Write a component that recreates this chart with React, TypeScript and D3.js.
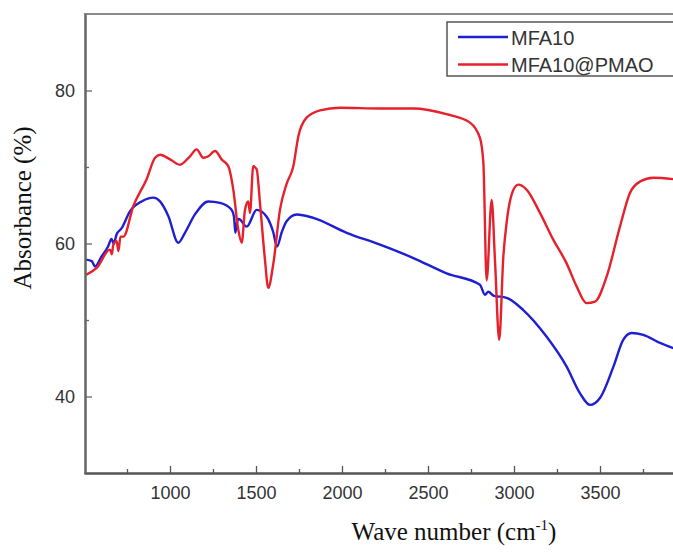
import * as d3 from 'd3'
import { useEffect, useRef } from 'react'

// MFA10 (blue)
const mfa10Wave = [512, 545, 564, 602, 640, 660, 672, 690, 719, 767, 835, 903, 942, 990, 1048, 1087, 1145, 1223, 1291, 1358, 1372, 1380, 1390, 1400, 1446, 1504, 1562, 1600, 1622, 1650, 1678, 1737, 1833, 2027, 2221, 2415, 2608, 2802, 2831, 2851, 2880, 2957, 3054, 3190, 3306, 3384, 3442, 3500, 3578, 3635, 3684, 3752, 3849, 3930]
const mfa10Abs = [57.9, 57.7, 57.0, 58.3, 59.6, 60.6, 60.0, 61.2, 62.0, 64.2, 65.5, 66.0, 65.5, 63.6, 60.1, 61.4, 63.8, 65.5, 65.3, 64.4, 63.5, 61.4, 62.8, 63.2, 62.2, 64.4, 63.5, 61.5, 59.6, 61.5, 62.9, 63.8, 63.35, 61.4, 59.85, 58.1, 56.1, 54.6, 53.3, 53.7, 53.2, 52.9, 51.3, 47.8, 43.9, 40.4, 38.9, 39.8, 43.9, 47.4, 48.3, 48.05, 47.0, 46.3]

// MFA10@PMAO (red)
const pmaoWave = [512, 574, 651, 662, 670, 690, 700, 712, 729, 787, 864, 913, 942, 1000, 1058, 1116, 1155, 1194, 1223, 1262, 1300, 1339, 1368, 1397, 1417, 1436, 1455, 1465, 1484, 1504, 1523, 1552, 1571, 1601, 1640, 1678, 1717, 1746, 1794, 1872, 1988, 2221, 2415, 2608, 2744, 2802, 2822, 2841, 2870, 2890, 2914, 2938, 2957, 2996, 3025, 3073, 3151, 3228, 3306, 3364, 3422, 3471, 3539, 3616, 3674, 3733, 3810, 3930]
const pmaoAbs = [55.9, 56.8, 59.2, 58.6, 59.8, 60.3, 59.0, 60.9, 60.9, 64.9, 68.4, 71.2, 71.6, 71.0, 70.3, 71.4, 72.3, 71.2, 71.4, 72.1, 71.0, 70.1, 67.05, 61.8, 60.1, 64.4, 65.5, 64.0, 70.1, 69.7, 65.3, 57.9, 54.2, 57.4, 64.5, 67.8, 70.1, 74.0, 76.45, 77.4, 77.75, 77.65, 77.65, 76.9, 75.8, 73.8, 70.5, 55.2, 65.7, 57.5, 47.4, 58.3, 62.7, 67.0, 67.7, 67.05, 64.0, 60.5, 57.4, 54.4, 52.2, 52.4, 55.7, 62.2, 66.6, 68.1, 68.6, 68.4]

const xTicks = [1000, 1500, 2000, 2500, 3000, 3500]
const xMinorTicks = [750, 1250, 1750, 2250, 2750, 3250, 3750]
const yTicks = [40, 60, 80]
const yMinorTicks = [50, 70]
const seriesNames = ['MFA10', 'MFA10@PMAO']
const seriesColors = ['#1f1fd2', '#e6212b']

export default function App() {
  const ref = useRef<SVGSVGElement>(null)
  const width = 673
  const height = 559

  useEffect(() => {
    const svg = d3.select(ref.current)
    svg.selectAll('*').remove()

    const left = 84, top = 14, bottom = 473
    const xScale = d3.scaleLinear().domain([500, 4000]).range([left, left + 3500 * 0.172])
    const yScale = d3.scaleLinear().domain([30, 90]).range([bottom, top])

    svg.append('defs').append('clipPath').attr('id', 'plot')
      .append('rect').attr('x', left).attr('y', top).attr('width', 700).attr('height', bottom - top)

    // frame top
    svg.append('line')
      .attr('x1', left).attr('x2', width).attr('y1', top).attr('y2', top)
      .attr('stroke', '#8a8a8a').attr('stroke-width', 2)

    const series = [
      { name: seriesNames[0], color: seriesColors[0], pts: mfa10Wave.map((w, i) => [w, mfa10Abs[i]]) },
      { name: seriesNames[1], color: seriesColors[1], pts: pmaoWave.map((w, i) => [w, pmaoAbs[i]]) },
    ]
    const line = d3.line<number[]>()
      .curve(d3.curveMonotoneX)
      .x(d => xScale(d[0]))
      .y(d => yScale(d[1]))
    svg.append('g').attr('clip-path', 'url(#plot)')
      .selectAll('path')
      .data(series)
      .join('path')
      .attr('fill', 'none')
      .attr('stroke', d => d.color)
      .attr('stroke-width', 2.4)
      .attr('stroke-linejoin', 'round')
      .attr('d', d => line(d.pts))

    // x axis
    const xAxisG = svg.append('g').attr('transform', `translate(0, ${bottom})`)
    xAxisG.call(d3.axisBottom(xScale).tickValues(xTicks).tickSizeInner(-7).tickSizeOuter(0).tickPadding(13).tickFormat(d3.format('d')))
    xAxisG.append('g').call(d3.axisBottom(xScale).tickValues(xMinorTicks).tickSizeInner(-4).tickSizeOuter(0).tickFormat(() => ''))
    xAxisG.selectAll('.domain').attr('stroke', '#555').attr('stroke-width', 2)
    xAxisG.selectAll('line').attr('stroke', '#555').attr('stroke-width', 1.3)
    xAxisG.selectAll('text')
      .attr('font-family', 'Arial, "Liberation Sans", sans-serif')
      .attr('font-size', 18).attr('fill', '#333')

    // y axis
    const yAxisG = svg.append('g').attr('transform', `translate(${left + 1}, 0)`)
    yAxisG.call(d3.axisLeft(yScale).tickValues(yTicks).tickSizeInner(-7).tickSizeOuter(0).tickPadding(10))
    yAxisG.append('g').call(d3.axisLeft(yScale).tickValues(yMinorTicks).tickSizeInner(-4).tickSizeOuter(0).tickFormat(() => ''))
    yAxisG.selectAll('.domain').attr('stroke', '#666').attr('stroke-width', 2)
    yAxisG.selectAll('line').attr('stroke', '#666').attr('stroke-width', 1.3)
    yAxisG.selectAll('text')
      .attr('font-family', 'Arial, "Liberation Sans", sans-serif')
      .attr('font-size', 18).attr('fill', '#333')

    // axis titles
    svg.append('text')
      .attr('x', 454).attr('y', 540)
      .attr('text-anchor', 'middle')
      .attr('font-family', '"Times New Roman", "Liberation Serif", serif')
      .attr('font-size', 25).attr('fill', '#111')
      .call(t => {
        t.append('tspan').text('Wave number (cm')
        t.append('tspan').attr('font-size', 15).attr('dy', -10).text('-1')
        t.append('tspan').attr('dy', 10).text(')')
      })
    svg.append('text')
      .attr('transform', 'translate(31, 208) rotate(-90)')
      .attr('text-anchor', 'middle')
      .attr('font-family', '"Times New Roman", "Liberation Serif", serif')
      .attr('font-size', 25).attr('fill', '#111')
      .text('Absorbance (%)')

    // legend
    const lg = svg.append('g')
    lg.append('rect')
      .attr('x', 447).attr('y', 22).attr('width', 240).attr('height', 54)
      .attr('fill', 'white').attr('stroke', '#555').attr('stroke-width', 1.5)
    series.forEach((s, i) => {
      const y = 37 + i * 27.5
      lg.append('line')
        .attr('x1', 458).attr('x2', 508).attr('y1', y).attr('y2', y)
        .attr('stroke', s.color).attr('stroke-width', 2.4)
      lg.append('text')
        .attr('x', 511).attr('y', y + 7.5)
        .attr('font-family', 'Arial, "Liberation Sans", sans-serif')
        .attr('font-size', 20).attr('fill', '#333')
        .text(s.name)
    })
  }, [])

  return (
    <svg ref={ref} width={width} height={height}
      style={{ position: 'absolute', left: 0, top: 0, background: 'white' }} />
  )
}
